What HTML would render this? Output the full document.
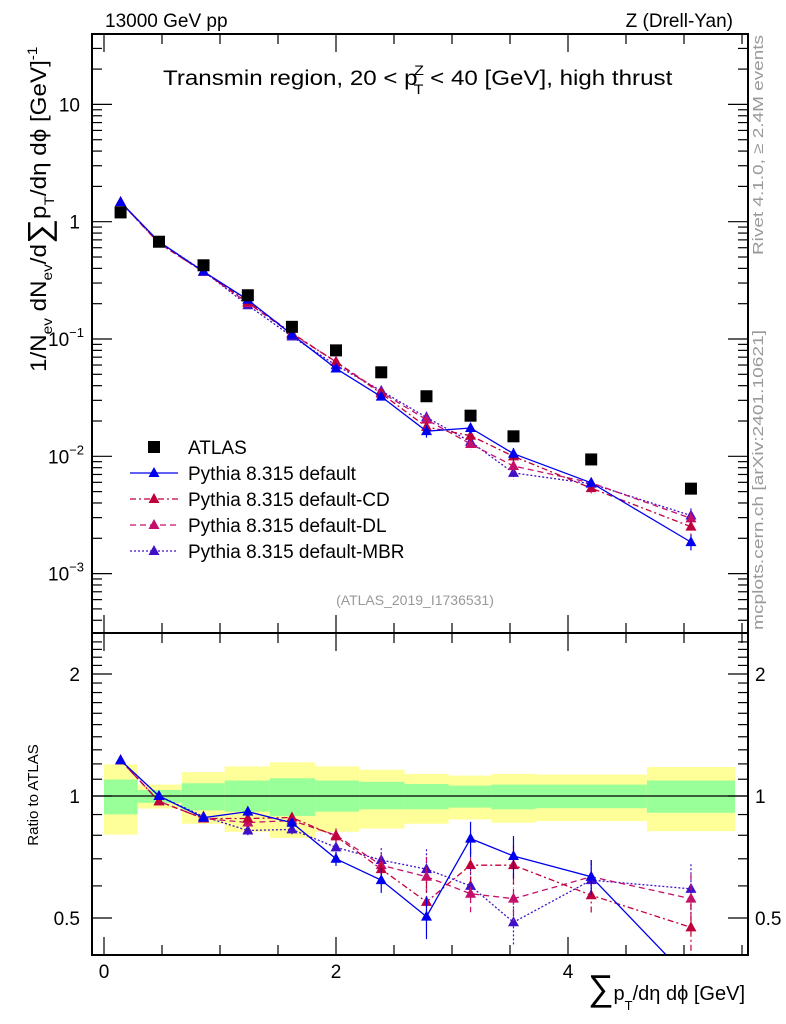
<!DOCTYPE html>
<html><head><meta charset="utf-8">
<style>
html,body{margin:0;padding:0;background:#fff;}
svg{display:block;font-family:"Liberation Sans",Arial,sans-serif;}
</style></head>
<body>
<svg id="chart" width="786" height="1024" viewBox="0 0 786 1024" xmlns="http://www.w3.org/2000/svg">
<g id="bands"></g>
<g id="marks"></g>
<g id="axes"></g>
<text x="105" y="27" font-size="19">13000 GeV pp</text>
<text x="733" y="27" font-size="19" text-anchor="end">Z (Drell-Yan)</text>
<text transform="translate(163,85) scale(1.15,1)" font-size="21">Transmin region, 20 &lt; p<tspan font-size="14" dx="-3" dy="-10">Z</tspan><tspan font-size="14" dx="-9" dy="19">T</tspan><tspan dy="-9"> &lt; 40 [GeV], high thrust</tspan></text>
<text transform="translate(46,372) rotate(-90) scale(1.1,1)" font-size="22">1/N<tspan font-size="14" dy="6">ev</tspan><tspan dy="-6"> dN</tspan><tspan font-size="14" dy="6">ev</tspan><tspan dy="-6">/d</tspan><tspan font-size="32" dy="4">∑</tspan><tspan dy="-4">p</tspan><tspan font-size="14" dy="8">T</tspan><tspan dy="-8">/dη dϕ  [GeV]</tspan><tspan font-size="14" dy="-9">-1</tspan></text>
<text transform="translate(38,795) rotate(-90)" font-size="15" text-anchor="middle">Ratio to ATLAS</text>
<text x="745" y="1000" font-size="20" text-anchor="end"><tspan font-size="36">∑</tspan>p<tspan font-size="13" dy="10">T</tspan><tspan dy="-10">/dη dϕ [GeV]</tspan></text>
<text transform="translate(763,255) rotate(-90)" font-size="15" fill="#999" textLength="220" lengthAdjust="spacingAndGlyphs">Rivet 4.1.0, ≥ 2.4M events</text>
<text transform="translate(763,630) rotate(-90)" font-size="15" fill="#999" textLength="300" lengthAdjust="spacingAndGlyphs">mcplots.cern.ch [arXiv:2401.10621]</text>
<text x="415" y="605" font-size="14" fill="#999" text-anchor="middle">(ATLAS_2019_I1736531)</text>
<g id="legend"></g>
</svg>
<script>
// ---- data ----
const xPoints = [0.143,0.474,0.858,1.24,1.62,2.0,2.39,2.78,3.16,3.53,4.2,5.06];
const binEdges = [0,0.29,0.67,1.04,1.43,1.82,2.2,2.59,2.97,3.34,3.72,4.68,5.44];
const atlasValues = [1.2,0.675,0.425,0.236,0.127,0.080,0.052,0.0325,0.0222,0.0148,0.0094,0.0053];
const ratioDefault = [1.225,1.0,0.884,0.915,0.859,0.70,0.62,0.504,0.785,0.711,0.632,0.35];
const ratioCD = [1.225,0.97,0.88,0.88,0.885,0.795,0.66,0.548,0.675,0.675,0.569,0.474];
const ratioDL = [1.225,0.97,0.88,0.86,0.87,0.80,0.675,0.632,0.574,0.558,0.632,0.558];
const ratioMBR = [1.225,1.0,0.89,0.822,0.827,0.747,0.695,0.66,0.60,0.488,0.62,0.59];
const relErr = [0.005,0.01,0.015,0.03,0.03,0.04,0.07,0.12,0.1,0.12,0.1,0.15];
const yellowUp = [1.197,1.067,1.145,1.183,1.211,1.183,1.161,1.134,1.123,1.134,1.13,1.179];
const yellowDn = [0.803,0.931,0.854,0.816,0.788,0.816,0.831,0.854,0.875,0.859,0.867,0.819];
const greenUp = [1.098,1.035,1.075,1.092,1.106,1.092,1.084,1.071,1.061,1.067,1.067,1.092];
const greenDn = [0.901,0.962,0.922,0.915,0.893,0.915,0.927,0.927,0.936,0.927,0.933,0.909];
const mainTicks = [0.001,0.01,0.1,1,10];
const mainTickLabels = ['10','10','10','1','10'];
const mainTickExp = ['−3','−2','−1','',''];
const xTicks = [0,2,4];
const ratioTicks = [0.5,1,2];

// ---- axes functions ----
const X0=104, XS=116;
const L=92, R=748, T=34, MB=633, RB=955;
const sx = v => X0 + XS*v;
const sy = v => 221.7 - 117.3*Math.log10(v);
const sr = v => 796 - 122*Math.log2(v);
const NS='http://www.w3.org/2000/svg';
function mk(tag, attrs, parent){const e=document.createElementNS(NS,tag);for(const k in attrs)e.setAttribute(k,attrs[k]);parent.appendChild(e);return e;}
const bands=document.getElementById('bands'), marks=document.getElementById('marks'), axes=document.getElementById('axes'), legend=document.getElementById('legend');

for(let i=0;i<binEdges.length-1;i++){
  const x1=sx(binEdges[i]), x2=sx(binEdges[i+1]);
  const y=mk('rect',{x:x1,y:sr(yellowUp[i]),width:x2-x1,height:sr(yellowDn[i])-sr(yellowUp[i]),fill:'#ffff99'},bands);
  
  
  const g=mk('rect',{x:x1,y:sr(greenUp[i]),width:x2-x1,height:sr(greenDn[i])-sr(greenUp[i]),fill:'#99ff99'},bands);
  
  
}
const one=mk('line',{x1:L,x2:R,y1:sr(1),y2:sr(1),stroke:'#000','stroke-width':1.3},bands);



const series=[
  {name:'default',r:ratioDefault,color:'#0000ee',dash:'',label:'Pythia 8.315 default'},
  {name:'default-cd',r:ratioCD,color:'#c0003a',dash:'6,3,2,3',label:'Pythia 8.315 default-CD'},
  {name:'default-dl',r:ratioDL,color:'#c4106a',dash:'6,4',label:'Pythia 8.315 default-DL'},
  {name:'default-mbr',r:ratioMBR,color:'#4010c8',dash:'2,2',label:'Pythia 8.315 default-MBR'}
];
function tri(x,y,c,parent,nm){
  const t=mk('polygon',{points:`${x},${y-6} ${x-5.5},${y+4} ${x+5.5},${y+4}`,fill:c},parent);
  
  
}
const defs=mk('defs',{},marks);
const cp1=mk('clipPath',{id:'cm'},defs); mk('rect',{x:L,y:T,width:R-L,height:MB-T},cp1);
const cp2=mk('clipPath',{id:'cr'},defs); mk('rect',{x:L,y:MB,width:R-L,height:RB-MB},cp2);
const gm=mk('g',{'clip-path':'url(#cm)'},marks);
const gr=mk('g',{'clip-path':'url(#cr)'},marks);

series.slice().reverse().forEach(s=>{
  const mainPts=s.r.map((r,i)=>`${sx(xPoints[i])},${sy(r*atlasValues[i])}`).join(' ');
  const pl=mk('polyline',{points:mainPts,fill:'none',stroke:s.color,'stroke-width':1.3,'stroke-dasharray':s.dash},gm);
  
  
  const rPts=s.r.map((r,i)=>`${sx(xPoints[i])},${sr(r)}`).join(' ');
  const pr=mk('polyline',{points:rPts,fill:'none',stroke:s.color,'stroke-width':1.3,'stroke-dasharray':s.dash},gr);
  
  
  s.r.forEach((r,i)=>{
    const x=sx(xPoints[i]), e=relErr[i];
    const v=r*atlasValues[i];
    mk('line',{x1:x,x2:x,y1:sy(v*(1+e)),y2:sy(v*(1-e)),stroke:s.color,'stroke-width':1.2,'stroke-dasharray':s.dash},gm);
    mk('line',{x1:x,x2:x,y1:sr(r*(1+e)),y2:sr(r*(1-e)),stroke:s.color,'stroke-width':1.2,'stroke-dasharray':s.dash},gr);
    tri(x,sy(v),s.color,gm,'marker-'+s.name);
    tri(x,sr(r),s.color,gr,'ratio-marker-'+s.name);
  });
});
atlasValues.forEach((v,i)=>{
  const sq=mk('rect',{x:sx(xPoints[i])-6,y:sy(v)-6,width:12,height:12,fill:'#000'},gm);
  
  
});

[[T,MB],[MB,RB]].forEach(([a,b])=>{mk('rect',{x:L,y:a,width:R-L,height:b-a,fill:'none',stroke:'#000','stroke-width':2},axes);});
for(let v=0;v<=5.5;v+=0.5){
  const x=sx(v), maj=Math.abs(v%2)<1e-6;
  const len=maj?18:10;
  [[T,1],[MB,-1],[MB,1],[RB,-1]].forEach(([y,d])=>mk('line',{x1:x,x2:x,y1:y,y2:y+d*len,stroke:'#000','stroke-width':1.2},axes));
}
xTicks.forEach(v=>{
  const t=mk('text',{x:sx(v),y:978,'font-size':19,'text-anchor':'middle'},axes);
  t.textContent=v;
  
  
});
for(let d=-4;d<=1;d++){
  for(let m=1;m<10;m++){
    const v=m*Math.pow(10,d), y=sy(v);
    if(y<T||y>MB)continue;
    const len=m==1?20:10;
    mk('line',{x1:L,x2:L+len,y1:y,y2:y,stroke:'#000','stroke-width':1.2},axes);
    mk('line',{x1:R-len,x2:R,y1:y,y2:y,stroke:'#000','stroke-width':1.2},axes);
  }
}
mainTicks.forEach((v,i)=>{
  const t=mk('text',{x:mainTickExp[i]?66:80,y:sy(v)+7,'font-size':19,'text-anchor':mainTickExp[i]?'middle':'end'},axes);
  t.textContent=mainTickLabels[i];
  
  
  if(mainTickExp[i]){const s=mk('tspan',{'font-size':13,dy:-9},t);s.textContent=mainTickExp[i];}
});
for(let v=0.4;v<=2.5;v+=0.1){
  const y=sr(v); if(y<MB||y>RB)continue;
  const maj=ratioTicks.some(t=>Math.abs(t-v)<1e-6);
  const len=maj?20:10;
  mk('line',{x1:L,x2:L+len,y1:y,y2:y,stroke:'#000','stroke-width':1.2},axes);
  mk('line',{x1:R-len,x2:R,y1:y,y2:y,stroke:'#000','stroke-width':1.2},axes);
}
ratioTicks.forEach(v=>{
  const a=mk('text',{x:80,y:sr(v)+7,'font-size':19,'text-anchor':'end'},axes);
  a.textContent=v;
  
  
  const b=mk('text',{x:755,y:sr(v)+7,'font-size':19},axes);
  b.textContent=v;
  
  
});
const ly=[447,473,499,525,551];
const sq=mk('rect',{x:148,y:ly[0]-6,width:12,height:12,fill:'#000'},legend);


const lt=mk('text',{x:188,y:ly[0]+7,'font-size':19},legend);
lt.textContent='ATLAS';


series.forEach((s,i)=>{
  const y=ly[i+1];
  mk('line',{x1:130,x2:178,y1:y,y2:y,stroke:s.color,'stroke-width':1.3,'stroke-dasharray':s.dash},legend);
  tri(154,y,s.color,legend,'legend-marker-'+s.name);
  const t=mk('text',{x:188,y:y+7,'font-size':19},legend);
  t.textContent=s.label;
  
  
});
</script>
</body></html>
